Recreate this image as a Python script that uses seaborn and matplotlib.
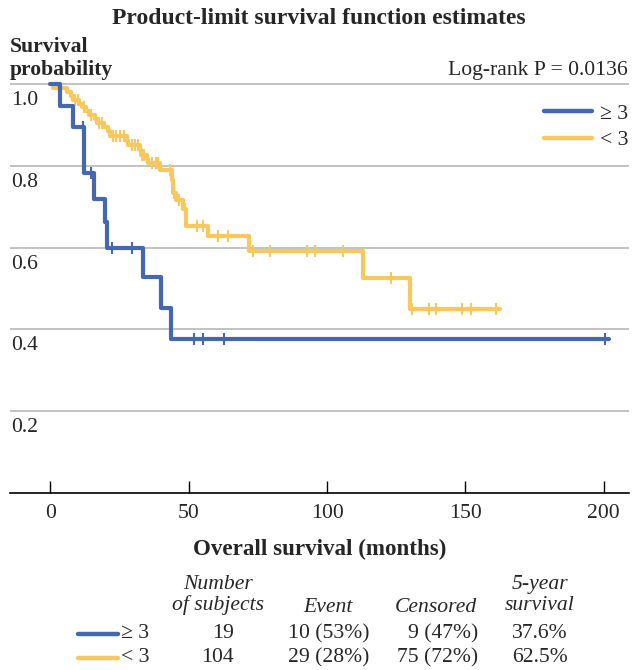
import numpy as np
import pandas as pd
import matplotlib
matplotlib.use("Agg")
import matplotlib.pyplot as plt
from matplotlib.lines import Line2D
import seaborn as sns

# ---------------- data ----------------
group_labels = ["\u2265 3", "< 3"]
group_colors = ["#4468B0", "#F9C85C"]

blue_time = [0, 3.5, 8.0, 12.1, 15.9, 19.8, 20.6, 33.6, 40.0, 43.6, 202.0]
blue_surv = [1.0, 0.947, 0.895, 0.782, 0.720, 0.663, 0.600, 0.529, 0.452, 0.377, 0.377]
blue_censor = [11.9, 14.6, 22.2, 29.6, 51.9, 55.1, 62.9, 200.5]

yellow_time = [0, 1.0, 6.0, 7.5, 8.2, 10.5, 11.5, 13.0, 14.0, 16.0, 16.8, 19.5, 21.0,
               21.5, 27.7, 28.0, 32.4, 32.6, 34.9, 35.2, 39.6, 43.8, 44.4, 45.4, 48.1,
               49.0, 57.1, 71.8, 113.0, 130.0, 162.5]
yellow_surv = [1.0, 0.990, 0.981, 0.971, 0.962, 0.952, 0.943, 0.933, 0.924, 0.914, 0.904,
               0.894, 0.884, 0.872, 0.861, 0.851, 0.838, 0.826, 0.817, 0.807, 0.790, 0.765,
               0.733, 0.716, 0.694, 0.654, 0.628, 0.592, 0.525, 0.450, 0.450]
yellow_censor = [3.5, 9.0, 10.0, 12.0, 14.8, 17.5, 18.5, 22.5, 23.8, 25.0, 26.5, 29.5, 30.6,
                 31.7, 33.3, 34.0, 36.7, 38.2, 39.0, 43.2, 44.8, 46.5, 48.6, 52.9, 55.3,
                 60.7, 64.3, 73.4, 79.4, 92.7, 95.7, 105.7, 123.0, 130.8, 136.9, 139.4,
                 148.9, 151.9, 161.1]

x_ticks = [0, 50, 100, 150, 200]
y_ticks = [0.2, 0.4, 0.6, 0.8, 1.0]
y_tick_labels = ["0.2", "0.4", "0.6", "0.8", "1.0"]

title = "Product-limit survival function estimates"
ylabel = "Survival\nprobability"
xlabel = "Overall survival (months)"
pvalue_text = "Log-rank P = 0.0136"

table_headers = ["Number\nof subjects", "Event", "Censored", "5-year\nsurvival"]
n_subjects = ["19", "104"]
events = ["10 (53%)", "29 (28%)"]
censored = ["9 (47%)", "75 (72%)"]
five_year = ["37.6%", "62.5%"]

# ---------------- style ----------------
sns.set_theme(style="white")
plt.rcParams["font.family"] = ["Liberation Serif", "DejaVu Serif"]

FS = 15.6
W, H = 632, 670
fig = plt.figure(figsize=(W / 100, H / 100), dpi=100)
ax = fig.add_axes([10 / W, (H - 493) / H, 619 / W, 413 / H])

x_left, x_right = -14.6, 209.2
ax.set_xlim(x_left, x_right)
ax.set_ylim(0, 413 / 409)

for v in y_ticks:
    ax.axhline(v, color="#BDBDBD", lw=1.3, zorder=0)

def step_value(times, surv, t):
    idx = np.searchsorted(np.asarray(times), t, side="right") - 1
    return np.asarray(surv)[idx]

curves = [(blue_time, blue_surv, blue_censor), (yellow_time, yellow_surv, yellow_censor)]
for gi in [1, 0]:
    t, s, c = curves[gi]
    df = pd.DataFrame({"time": t, "surv": s})
    sns.lineplot(data=df, x="time", y="surv", ax=ax, color=group_colors[gi],
                 drawstyle="steps-post", lw=3.0, estimator=None, sort=False,
                 clip_on=False, zorder=3 + (1 - gi))
    cdf = pd.DataFrame({"time": c, "surv": step_value(t, s, c)})
    sns.scatterplot(data=cdf, x="time", y="surv", ax=ax, color=group_colors[gi],
                    marker="|", s=85, linewidth=1.5, zorder=3 + (1 - gi), clip_on=False)

for sp in ["left", "right", "top"]:
    ax.spines[sp].set_visible(False)
ax.spines["bottom"].set_color("black")
ax.spines["bottom"].set_linewidth(1.2)
ax.set_xticks(x_ticks)
ax.set_xticklabels([str(v) for v in x_ticks], fontsize=FS)
ax.tick_params(axis="x", direction="in", length=8.5, width=1.0, color="black",
               pad=8, bottom=True)
ax.set_yticks([])
ax.set_ylabel("")
ax.set_xlabel(xlabel, fontsize=16.6, fontweight="bold", labelpad=11)

for v, lab in zip(y_ticks, y_tick_labels):
    ax.annotate(lab, xy=(0, v), xycoords=("axes fraction", "data"), xytext=(0.5, -5),
                textcoords="offset points", ha="left", va="top", fontsize=FS)

handles = [Line2D([0], [0], color=group_colors[i], lw=3.2) for i in range(2)]
leg = ax.legend(handles, group_labels, loc="upper right", bbox_to_anchor=(1.0, 0.943),
                frameon=False, fontsize=FS, handlelength=2.2, handletextpad=0.4,
                labelspacing=0.3, borderpad=0, borderaxespad=0)

fig.text(319 / W, 1 - 18 / H, title, ha="center", va="center", fontsize=17,
         fontweight="bold")
fig.text(10 / W, 1 - 37 / H, ylabel, ha="left", va="top", fontsize=FS,
         fontweight="bold", linespacing=1.2)
fig.text(628 / W, 1 - 71 / H, pvalue_text, ha="right", va="center", fontsize=FS)

hdr_y = 1 - 595 / H
fig.text(218 / W, hdr_y, table_headers[0], ha="center", va="center", fontsize=FS,
         style="italic", linespacing=1.1)
fig.text(328 / W, 1 - 607 / H, table_headers[1], ha="center", va="center",
         fontsize=FS, style="italic")
fig.text(436 / W, 1 - 607 / H, table_headers[2], ha="center", va="center",
         fontsize=FS, style="italic")
fig.text(540 / W, hdr_y, table_headers[3], ha="center", va="center", fontsize=FS,
         style="italic", linespacing=1.1)

row_y = [634, 658]
for i in range(2):
    yy = 1 - row_y[i] / H
    fig.add_artist(Line2D([78 / W, 118 / W], [yy, yy], color=group_colors[i], lw=3.2,
                          transform=fig.transFigure))
    fig.text(121 / W, yy, group_labels[i], ha="left", va="center", fontsize=FS)
    fig.text(234 / W, yy, n_subjects[i], ha="right", va="center", fontsize=FS)
    fig.text(369 / W, yy, events[i], ha="right", va="center", fontsize=FS)
    fig.text(478 / W, yy, censored[i], ha="right", va="center", fontsize=FS)
    fig.text(540 / W, yy, five_year[i], ha="center", va="center", fontsize=FS)

fig.savefig("out.png", dpi=100)
